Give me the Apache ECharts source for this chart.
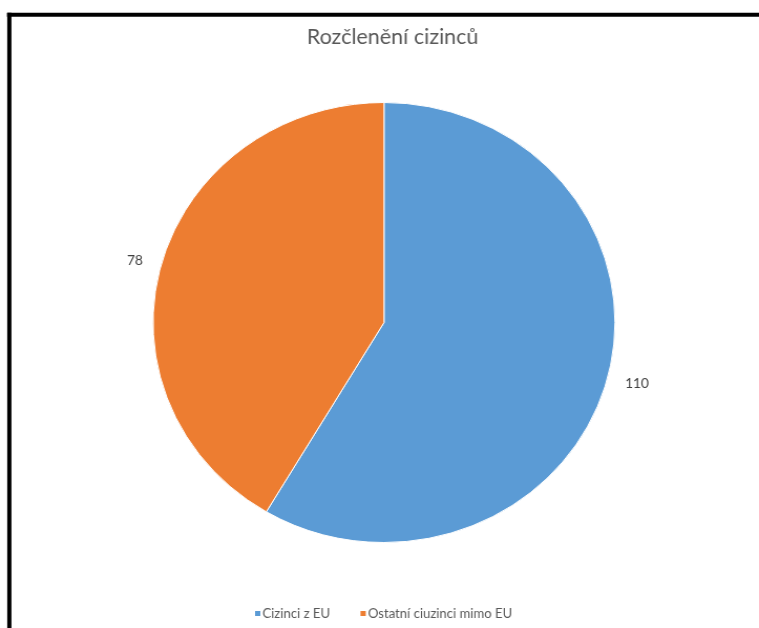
<!DOCTYPE html>
<html><head><meta charset="utf-8">
<script src="https://cdn.jsdelivr.net/npm/echarts@6/dist/echarts.min.js"></script>
<style>
html,body{margin:0;padding:0;background:#fff;overflow:hidden}
#wrap{width:759px;height:628px;overflow:hidden}
#c{width:723px;height:628px;transform:scaleX(1.0498);transform-origin:0 0}
</style>
</head><body><div id="wrap"><div id="c"></div></div>
<script>
const title = 'Rozčlenění cizinců';
const categories = ['Cizinci z EU', 'Ostatní ciuzinci mimo EU'];
const values = [110, 78];
const colors = ['#5B9BD5', '#ED7D31'];

const chart = echarts.init(document.getElementById('c'), null, {renderer: 'canvas'});
chart.setOption({
  backgroundColor: '#fff',
  animation: false,
  title: {
    text: title, left: 369, top: 22, textAlign: 'center',
    textStyle: {fontFamily: 'Lato', fontSize: 20.5, fontWeight: 'normal', color: '#595959'}
  },
  legend: {
    top: 602, left: 236,
    itemWidth: 7, itemHeight: 7, itemGap: 27,
    icon: 'rect',
    textStyle: {fontFamily: 'Lato', fontSize: 12.5, color: '#595959', padding: [0, 0, 0, -4]},
    data: categories
  },
  graphic: [
    {type: 'line', shape: {x1: 6.7, y1: 14.7, x2: 723, y2: 14.7}, style: {stroke: '#000', lineWidth: 4}},
    {type: 'line', shape: {x1: 8.9, y1: 12.7, x2: 8.9, y2: 628}, style: {stroke: '#000', lineWidth: 4}}
  ],
  series: [{
    type: 'pie',
    center: [365.8, 322.5],
    radius: 220,
    startAngle: 90,
    clockwise: true,
    data: categories.map((n, i) => ({name: n, value: values[i], itemStyle: {color: colors[i]}})),
    itemStyle: {borderColor: '#fff', borderWidth: 1},
    label: {
      show: true, position: 'outside', formatter: '{c}',
      fontFamily: 'Lato', fontSize: 13, color: '#404040'
    },
    labelLine: {show: false, length: 13, length2: 0}
  }]
});
</script></body></html>
